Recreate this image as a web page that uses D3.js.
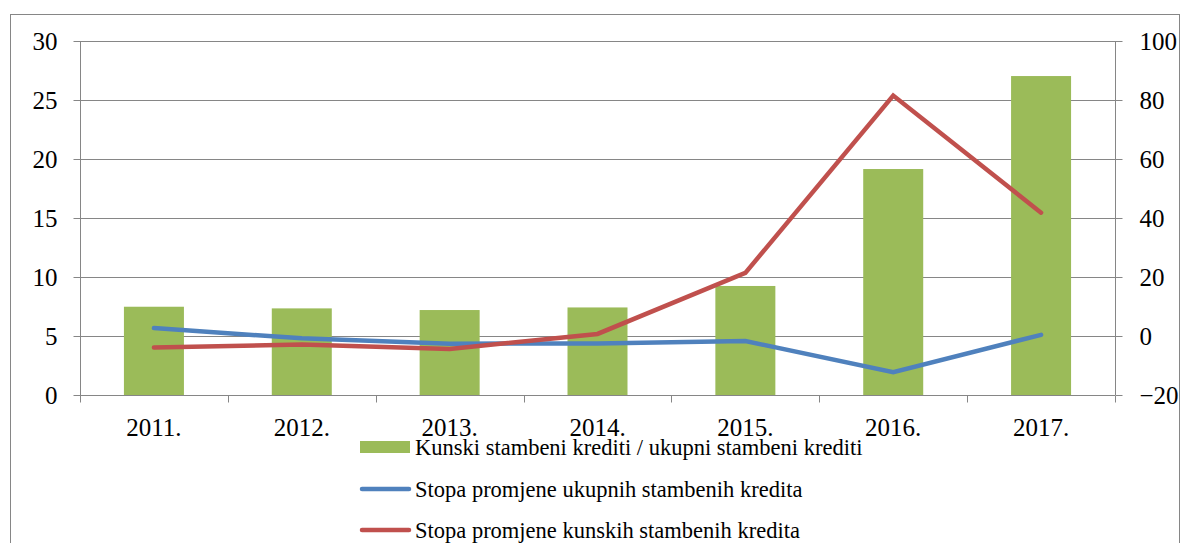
<!DOCTYPE html>
<html>
<head>
<meta charset="utf-8">
<script src="https://cdn.jsdelivr.net/npm/d3@7"></script>
<style>
  body { margin: 0; background: #fff; }
</style>
</head>
<body>
<div id="chart"></div>
<script>
const width = 1181
const height = 543
const font = "'Liberation Serif', 'Times New Roman', 'DejaVu Serif', serif"

// data
const years = ["2011.", "2012.", "2013.", "2014.", "2015.", "2016.", "2017."]
const shareKuna = [7.48, 7.34, 7.2, 7.42, 9.24, 19.15, 27.03]      // left axis
const rateTotal = [2.7, -0.8, -2.6, -2.5, -1.7, -12.3, 0.4]       // right axis
const rateKuna = [-3.9, -2.9, -4.4, 0.7, 21.4, 81.5, 41.8]        // right axis
const leftTicks = [0, 5, 10, 15, 20, 25, 30]
const rightTicks = [-20, 0, 20, 40, 60, 80, 100]
const seriesNames = [
    "Kunski stambeni krediti / ukupni stambeni krediti",
    "Stopa promjene ukupnih stambenih kredita",
    "Stopa promjene kunskih stambenih kredita"
]

const green = "#9BBB59"
const blue = "#4F81BD"
const red = "#C0504D"
const grid = "#868686"

const plot = {left: 80, right: 1115, top: 41, bottom: 395}

const svg = d3.select("#chart").append("svg")
    .attr("width", width)
    .attr("height", height)

// outer chart border
svg.append("rect")
    .attr("x", 10.5).attr("y", 14.5)
    .attr("width", 1169).attr("height", 540)
    .attr("fill", "none")
    .attr("stroke", grid)
    .attr("stroke-width", 1)

const x = d3.scaleBand().domain(years).range([plot.left, plot.right])

const yLeft = d3.scaleLinear().domain([0, 30]).range([plot.bottom, plot.top])
const yRight = d3.scaleLinear().domain([-20, 100]).range([plot.bottom, plot.top])

// gridlines
svg.append("g")
    .selectAll("line")
    .data(leftTicks)
    .enter()
    .append("line")
    .attr("x1", plot.left).attr("x2", plot.right)
    .attr("y1", d => Math.round(yLeft(d)) + 0.5)
    .attr("y2", d => Math.round(yLeft(d)) + 0.5)
    .attr("stroke", grid)
    .attr("stroke-width", 1)

// bars
svg.append("g")
    .selectAll("rect")
    .data(shareKuna)
    .enter()
    .append("rect")
    .attr("x", (d, i) => x(years[i]) + x.bandwidth() / 2 - 30)
    .attr("width", 60)
    .attr("y", d => yLeft(d))
    .attr("height", d => plot.bottom - yLeft(d))
    .attr("fill", green)

// left axis
const leftAxis = svg.append("g")
    .attr("transform", `translate(${plot.left + 0.5},0)`)
    .call(d3.axisLeft(yLeft).tickValues(leftTicks).tickSize(7).tickPadding(16))
leftAxis.select(".domain").attr("stroke", grid).attr("d", `M0,${plot.top}V${plot.bottom}`)
leftAxis.selectAll(".tick line").attr("stroke", grid)
leftAxis.selectAll(".tick text")
    .style("font-family", font).style("font-size", "25px").style("fill", "#000")
    .attr("dy", "0.34em")

// right axis
const rightAxis = svg.append("g")
    .attr("transform", `translate(${plot.right + 0.5},0)`)
    .call(d3.axisRight(yRight).tickValues(rightTicks).tickSize(7))
rightAxis.select(".domain").attr("stroke", grid).attr("d", `M0,${plot.top}V${plot.bottom}`)
rightAxis.selectAll(".tick line").attr("stroke", grid)
rightAxis.selectAll(".tick text")
    .style("font-family", font).style("font-size", "25px").style("fill", "#000")
    .attr("x", 24).attr("dy", "0.34em")

// bottom axis: ticks at band boundaries
const bottom = svg.append("g")
    .attr("transform", `translate(0,${plot.bottom + 0.5})`)
bottom.append("line")
    .attr("x1", plot.left).attr("x2", plot.right)
    .attr("stroke", grid)
const boundaries = years.map(y => x(y)).concat([plot.right])
bottom.selectAll(".bt")
    .data(boundaries)
    .enter()
    .append("line")
    .attr("class", "bt")
    .attr("x1", d => Math.round(d) + 0.5).attr("x2", d => Math.round(d) + 0.5)
    .attr("y1", 0).attr("y2", 7)
    .attr("stroke", grid)
bottom.selectAll("text")
    .data(years)
    .enter()
    .append("text")
    .attr("x", d => x(d) + x.bandwidth() / 2)
    .attr("y", 40)
    .attr("text-anchor", "middle")
    .style("font-family", font)
    .style("font-size", "25px")
    .text(d => d)

// lines
const line = d3.line()
    .x((d, i) => x(years[i]) + x.bandwidth() / 2)
    .y(d => yRight(d))

svg.append("path")
    .datum(rateTotal)
    .attr("d", line)
    .attr("fill", "none")
    .attr("stroke", blue)
    .attr("stroke-width", 4.5)
    .attr("stroke-linecap", "round")

svg.append("path")
    .datum(rateKuna)
    .attr("d", line)
    .attr("fill", "none")
    .attr("stroke", red)
    .attr("stroke-width", 4.5)
    .attr("stroke-linecap", "round")

// legend
const legend = svg.append("g")
const rows = [447, 489, 530]
legend.append("rect")
    .attr("x", 360).attr("y", 441)
    .attr("width", 50).attr("height", 12)
    .attr("fill", green)
legend.append("line")
    .attr("x1", 362).attr("x2", 409)
    .attr("y1", rows[1]).attr("y2", rows[1])
    .attr("stroke", blue).attr("stroke-width", 4.5).attr("stroke-linecap", "round")
legend.append("line")
    .attr("x1", 362).attr("x2", 409)
    .attr("y1", rows[2]).attr("y2", rows[2])
    .attr("stroke", red).attr("stroke-width", 4.5).attr("stroke-linecap", "round")
legend.selectAll("text")
    .data(seriesNames)
    .enter()
    .append("text")
    .attr("x", 415)
    .attr("y", (d, i) => rows[i] + 8)
    .style("font-family", font)
    .style("font-size", "22.5px")
    .text(d => d)
</script>
</body>
</html>
